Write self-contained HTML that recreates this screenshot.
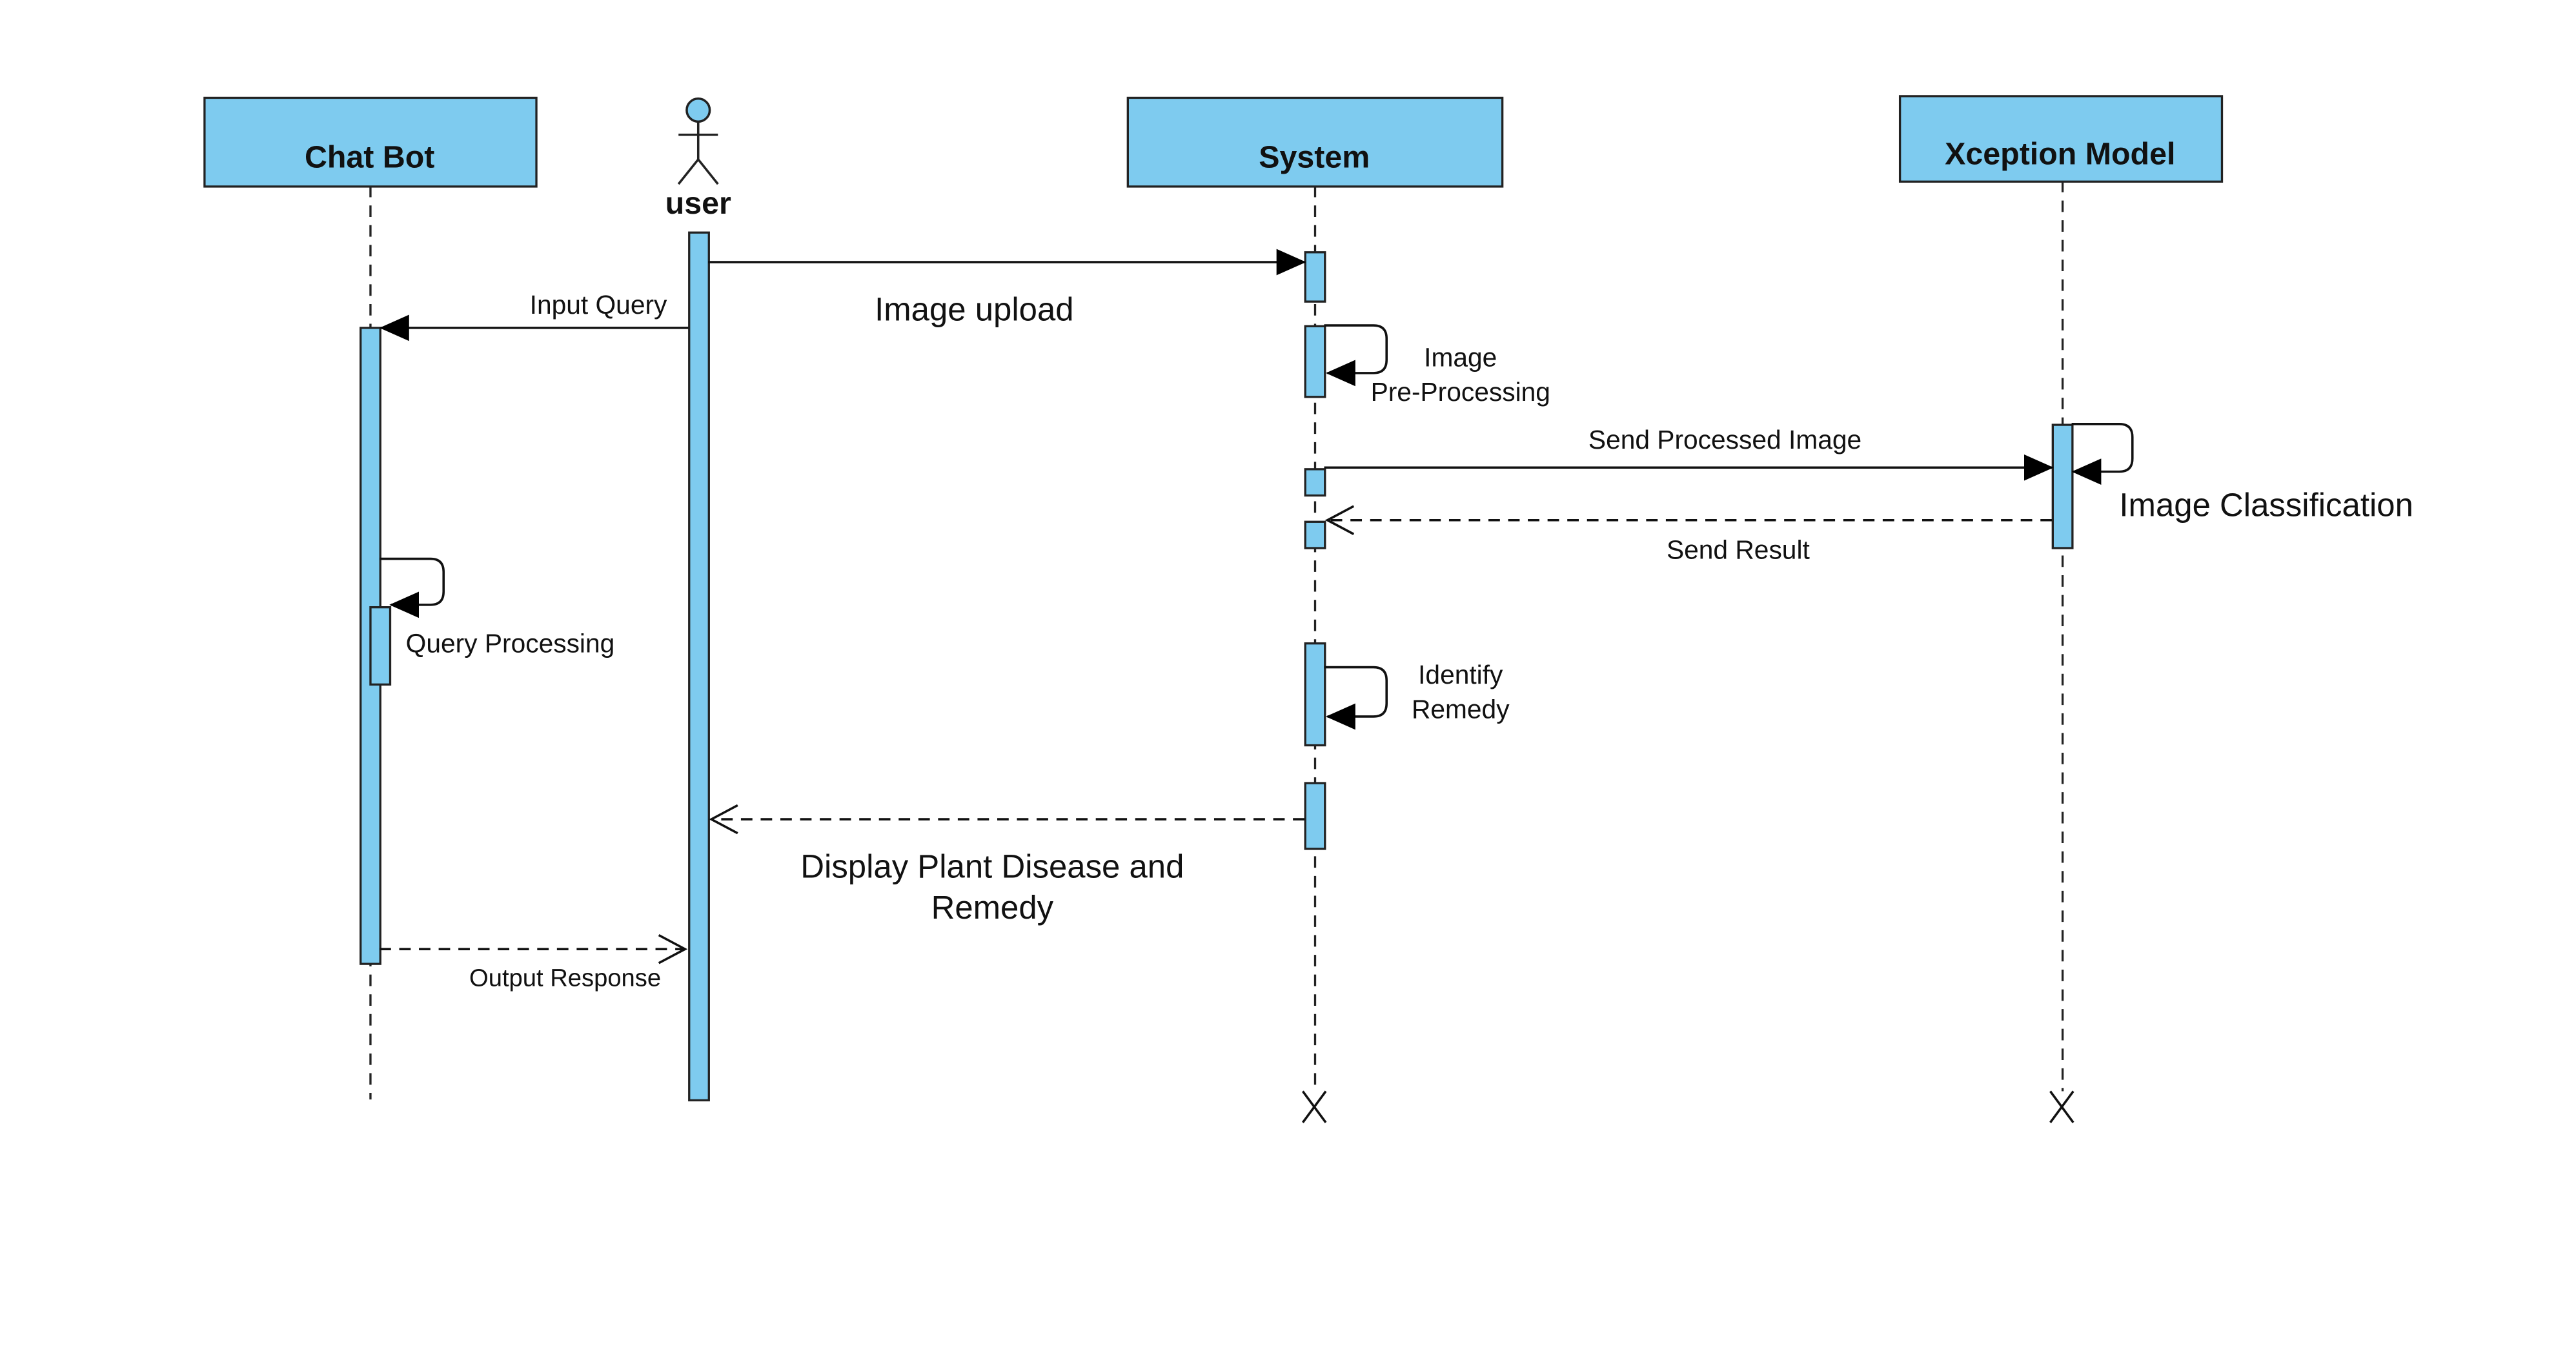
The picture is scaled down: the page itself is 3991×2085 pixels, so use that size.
<!DOCTYPE html>
<html><head><meta charset="utf-8"><style>
html,body{margin:0;padding:0;background:#fff;}
svg{display:block;}
text{font-family:"Liberation Sans",sans-serif;fill:#111;}
</style></head><body>
<svg width="3991" height="2085" viewBox="0 0 1568 819" preserveAspectRatio="none" xmlns="http://www.w3.org/2000/svg">
<defs>
<marker id="f" markerWidth="18" markerHeight="16" refX="17" refY="8" orient="auto" markerUnits="userSpaceOnUse"><path d="M0,0 L18,8 L0,16 z" fill="#000"/></marker>
</defs>
<rect width="1568" height="819" fill="#fff"/>
<g stroke="#222" stroke-width="1.3" stroke-dasharray="7,5" fill="none">
<line x1="225.5" y1="113" x2="225.5" y2="669"/>
<line x1="800.5" y1="113" x2="800.5" y2="664"/>
<line x1="1255.5" y1="110" x2="1255.5" y2="664"/>
</g>
<g fill="#7ecbef" stroke="#222" stroke-width="1.3">
<rect x="124.5" y="59.5" width="202" height="54"/>
<rect x="686.5" y="59.5" width="228" height="54"/>
<rect x="1156.5" y="58.5" width="196" height="52"/>
<rect x="419.5" y="141.5" width="12" height="528"/>
<rect x="219.5" y="199.5" width="12" height="387"/>
<rect x="225.5" y="369.5" width="12" height="47"/>
<rect x="794.5" y="153.5" width="12" height="30"/>
<rect x="794.5" y="198.5" width="12" height="43"/>
<rect x="794.5" y="285.5" width="12" height="16"/>
<rect x="794.5" y="317.5" width="12" height="16"/>
<rect x="794.5" y="391.5" width="12" height="62"/>
<rect x="794.5" y="476.5" width="12" height="40"/>
<rect x="1249.5" y="258.5" width="12" height="75"/>
</g>
<g font-weight="bold" font-size="19" text-anchor="middle">
<text x="225" y="102">Chat Bot</text>
<text x="800" y="102">System</text>
<text x="1254" y="100">Xception Model</text>
<text x="425" y="130">user</text>
</g>
<g stroke="#222" stroke-width="1.4" fill="none">
<circle cx="425" cy="67" r="7" fill="#7ecbef"/>
<line x1="425" y1="74" x2="425" y2="97"/>
<line x1="413" y1="82" x2="437" y2="82"/>
<line x1="425" y1="97" x2="413" y2="112"/>
<line x1="425" y1="97" x2="437" y2="112"/>
</g>
<g stroke="#111" stroke-width="1.4" fill="none">
<line x1="431" y1="159.5" x2="794" y2="159.5" marker-end="url(#f)"/>
<line x1="419" y1="199.5" x2="232" y2="199.5" marker-end="url(#f)"/>
<path d="M806,198 h30 q8,0 8,8 v13 q0,8 -8,8 h-28" marker-end="url(#f)"/>
<path d="M231,340 h31 q8,0 8,8 v12 q0,8 -8,8 h-24" marker-end="url(#f)"/>
<path d="M806,406 h30 q8,0 8,8 v14 q0,8 -8,8 h-28" marker-end="url(#f)"/>
<path d="M1261,258 h29 q8,0 8,8 v13 q0,8 -8,8 h-28" marker-end="url(#f)"/>
<line x1="806" y1="284.5" x2="1249" y2="284.5" marker-end="url(#f)"/>
<g stroke-dasharray="7,5">
<line x1="1249" y1="316.5" x2="808" y2="316.5"/>
<line x1="794" y1="498.5" x2="433" y2="498.5"/>
<line x1="231" y1="577.5" x2="417" y2="577.5"/>
</g>
<path d="M824,308 L808,316.5 L824,325"/>
<path d="M449,490 L433,498.5 L449,507"/>
<path d="M401,569 L417,577.5 L401,586"/>
<path d="M793,664 L807,683 M807,664 L793,683"/>
<path d="M1248,664 L1262,683 M1262,664 L1248,683"/>
</g>
<g font-size="16">
<text x="406" y="191" text-anchor="end">Input Query</text>
<text x="593" y="195" font-size="20" text-anchor="middle">Image upload</text>
<text x="889" y="223" text-anchor="middle">Image</text>
<text x="889" y="244" text-anchor="middle">Pre-Processing</text>
<text x="1050" y="273" text-anchor="middle">Send Processed Image</text>
<text x="1058" y="340" text-anchor="middle">Send Result</text>
<text x="1290" y="314" font-size="20">Image Classification</text>
<text x="247" y="397">Query Processing</text>
<text x="889" y="416" text-anchor="middle">Identify</text>
<text x="889" y="437" text-anchor="middle">Remedy</text>
<text x="604" y="534" font-size="20" text-anchor="middle">Display Plant Disease and</text>
<text x="604" y="559" font-size="20" text-anchor="middle">Remedy</text>
<text x="344" y="600" font-size="15" text-anchor="middle">Output Response</text>
</g>
</svg>
</body></html>
